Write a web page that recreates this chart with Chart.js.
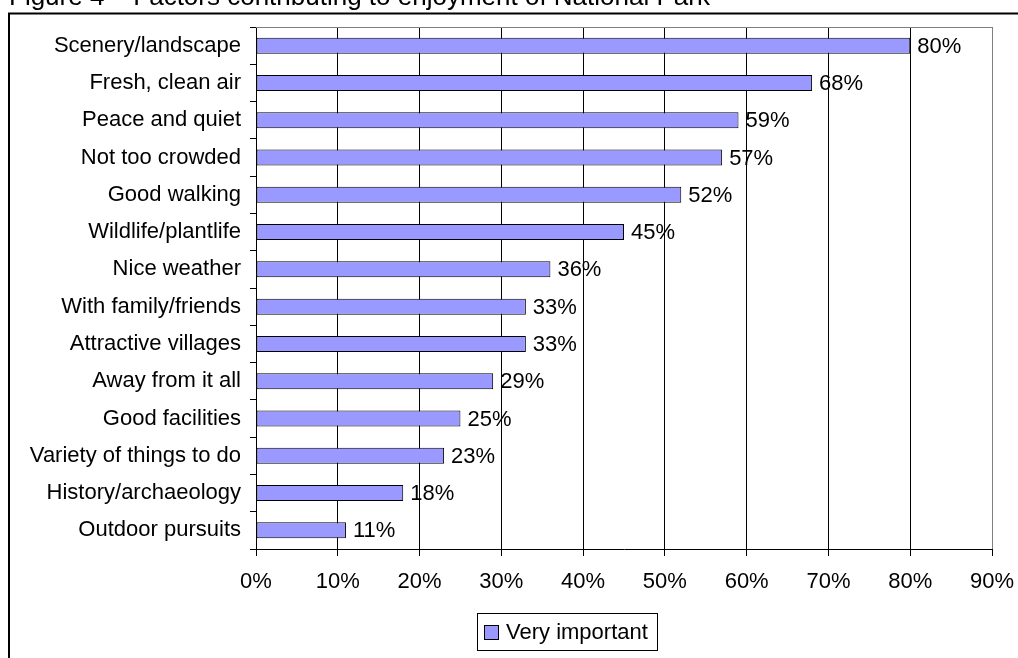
<!DOCTYPE html>
<html>
<head>
<meta charset="utf-8">
<script src="https://cdn.jsdelivr.net/npm/chart.js@4"></script>
<style>
  body { margin: 0; background: #fff; }
  #chart { display: block; }
</style>
</head>
<body>
<canvas id="chart" width="1018" height="658"></canvas>
<script>
// Chart values
const titleText = 'Figure 4 \u2013 Factors contributing to enjoyment of National Park';
const categories = ['Scenery/landscape', 'Fresh, clean air', 'Peace and quiet', 'Not too crowded',
  'Good walking', 'Wildlife/plantlife', 'Nice weather', 'With family/friends', 'Attractive villages',
  'Away from it all', 'Good facilities', 'Variety of things to do', 'History/archaeology', 'Outdoor pursuits'];
const veryImportant = [80, 68, 59, 57, 52, 45, 36, 33, 33, 29, 25, 23, 18, 11];
const seriesName = 'Very important';
const xTicks = [0, 10, 20, 30, 40, 50, 60, 70, 80, 90];

const font = "'Liberation Sans', Arial, sans-serif";
const barColor = '#9999FF';

// frame, title, plot border, value labels and legend box
const decorations = {
    id: 'decorations',
    beforeDraw(chart) {
        const c = chart.ctx;
        c.save();
        c.strokeStyle = '#000';
        c.lineWidth = 2;
        c.strokeRect(9, 13.5, 1100, 700);
        c.fillStyle = '#000';
        c.font = '26px ' + font;
        c.textBaseline = 'alphabetic';
        c.fillText(titleText, 9, 5);
        c.restore();
    },
    afterDraw(chart) {
        const c = chart.ctx;
        const area = chart.chartArea;
        c.save();
        // top border of the plot area
        c.strokeStyle = '#808080';
        c.lineWidth = 1;
        c.beginPath();
        c.moveTo(area.left, area.top + 0.5);
        c.lineTo(area.right, area.top + 0.5);
        c.stroke();

        // value labels
        c.fillStyle = '#000';
        c.font = '22px ' + font;
        c.textBaseline = 'middle';
        c.textAlign = 'left';
        chart.getDatasetMeta(0).data.forEach((bar, i) => {
            c.fillText(veryImportant[i] + '%', bar.x + 7, bar.y + 1);
        });

        // legend
        c.strokeStyle = '#000';
        c.strokeRect(477.5, 613.5, 180, 37);
        c.fillStyle = barColor;
        c.fillRect(484.5, 625.5, 14, 14);
        c.strokeRect(484.5, 625.5, 14, 14);
        c.fillStyle = '#000';
        c.fillText(seriesName, 506, 633);
        c.restore();
    }
};

const ctx = document.getElementById('chart').getContext('2d');
const myChart = new Chart(ctx, {
    type: 'bar',
    data: {
        labels: categories,
        datasets: [{
            label: seriesName,
            data: veryImportant,
            backgroundColor: barColor,
            borderColor: '#000',
            borderWidth: 1,
            borderSkipped: false,
            categoryPercentage: 1,
            barPercentage: 0.43
        }]
    },
    options: {
        indexAxis: 'y',
        responsive: false,
        animation: false,
        layout: { padding: { top: 27, right: 26, left: 0, bottom: 0 } },
        plugins: {
            legend: { display: false },
            tooltip: { enabled: false }
        },
        scales: {
            x: {
                min: 0,
                max: 90,
                afterFit: scale => {
                    scale.height = 109;
                    scale.paddingLeft = 0;
                    scale.paddingRight = 0;
                },
                afterBuildTicks: scale => { scale.ticks = xTicks.map(v => ({ value: v })); },
                ticks: {
                    color: '#000',
                    font: { family: font, size: 22 },
                    padding: 13,
                    maxRotation: 0,
                    callback: v => v + '%'
                },
                grid: {
                    color: c => (c.tick && c.tick.value === 90) ? '#808080' : '#000',
                    tickColor: '#000',
                    tickLength: 7,
                    lineWidth: 1
                },
                border: { color: '#000', width: 1 }
            },
            y: {
                afterFit: scale => {
                    scale.width = 256;
                    scale.paddingTop = 0;
                    scale.paddingBottom = 0;
                },
                ticks: {
                    color: '#000',
                    font: { family: font, size: 22 },
                    padding: 9,
                    autoSkip: false
                },
                grid: {
                    drawOnChartArea: false,
                    offset: true,
                    tickColor: '#000',
                    tickLength: 6
                },
                border: { color: '#000', width: 1 }
            }
        }
    },
    plugins: [decorations]
});
</script>
</body>
</html>
